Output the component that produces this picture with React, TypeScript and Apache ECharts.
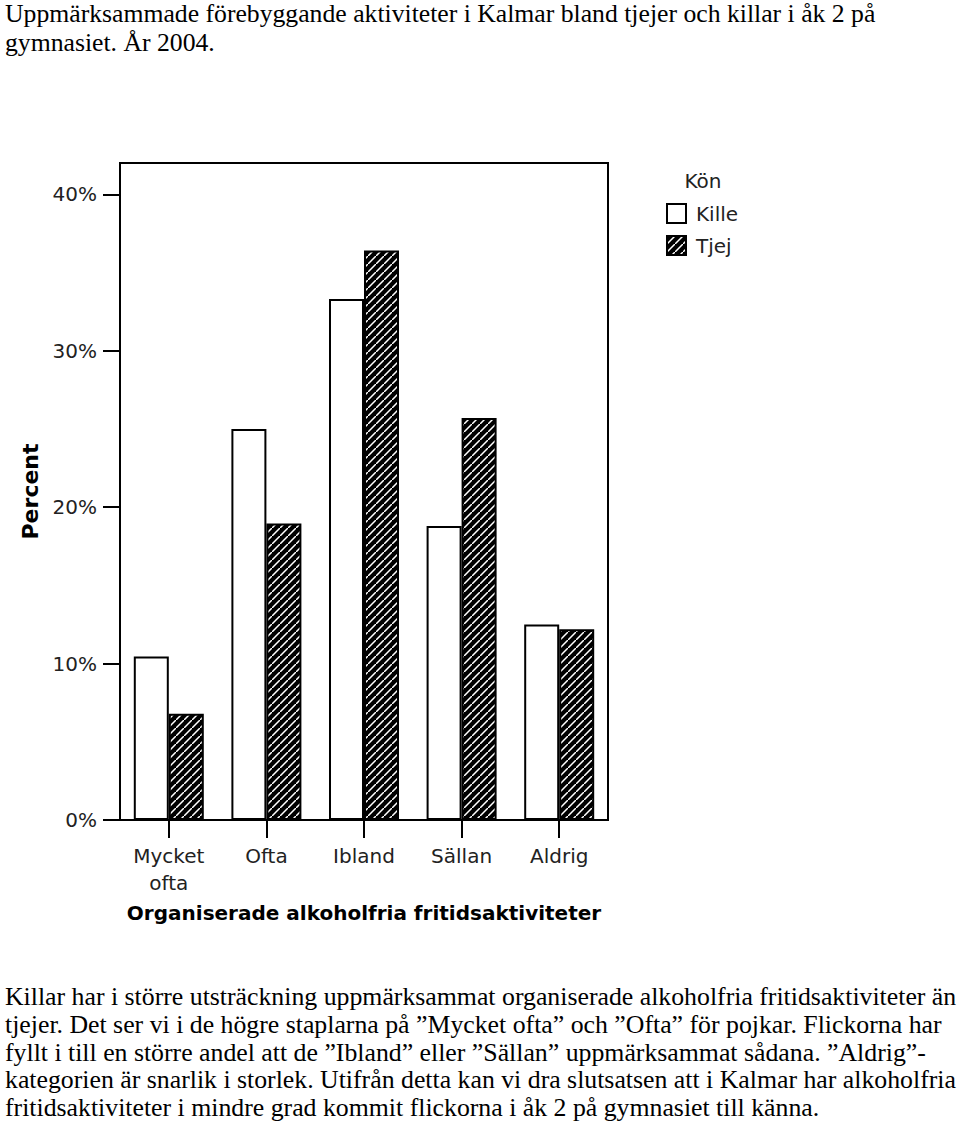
import React, { useEffect, useRef } from 'react';
import * as echarts from 'echarts';

const categories = ['Mycket\nofta', 'Ofta', 'Ibland', 'Sällan', 'Aldrig'];
const killeValues = [10.45, 25.0, 33.3, 18.8, 12.5];
const tjejValues = [6.8, 18.95, 36.4, 25.7, 12.2];
const yTicks = [0, 10, 20, 30, 40];
const seriesNames = ['Kille', 'Tjej'];
const legendTitle = 'Kön';
const xAxisName = 'Organiserade alkoholfria fritidsaktiviteter';
const yAxisName = 'Percent';
const titleLines = [
  'Uppmärksammade förebyggande aktiviteter i Kalmar bland tjejer och killar i åk 2 på',
  'gymnasiet. År 2004.',
];
const bodyLines = [
  'Killar har i större utsträckning uppmärksammat organiserade alkoholfria fritidsaktiviteter än',
  'tjejer. Det ser vi i de högre staplarna på ”Mycket ofta” och ”Ofta” för pojkar. Flickorna har',
  'fyllt i till en större andel att de ”Ibland” eller ”Sällan” uppmärksammat sådana. ”Aldrig”-',
  'kategorien är snarlik i storlek. Utifrån detta kan vi dra slutsatsen att i Kalmar har alkoholfria',
  'fritidsaktiviteter i mindre grad kommit flickorna i åk 2 på gymnasiet till känna.',
];

function makeHatch(): HTMLCanvasElement {
  const n = 8;
  const c = document.createElement('canvas');
  c.width = n;
  c.height = n;
  const ctx = c.getContext('2d')!;
  ctx.fillStyle = '#000';
  ctx.fillRect(0, 0, n, n);
  ctx.strokeStyle = '#fff';
  ctx.lineWidth = 1.5;
  ctx.beginPath();
  ctx.moveTo(-2, n + 2);
  ctx.lineTo(n + 2, -2);
  ctx.moveTo(-2 - n, n + 2 - n);
  ctx.lineTo(n + 2 - n, -2 - n);
  ctx.moveTo(-2 + n, n + 2 + n);
  ctx.lineTo(n + 2 + n, -2 + n);
  ctx.stroke();
  return c;
}

export default function App() {
  const ref = useRef<HTMLDivElement>(null);
  useEffect(() => {
    document.body.style.margin = '0';
    const chart = echarts.init(ref.current!, null, { renderer: 'svg' });
    const hatch = { image: makeHatch(), repeat: 'repeat', imageWidth: 8, imageHeight: 8 } as any;
    const sans = 'DejaVu Sans';
    const serif = 'Liberation Serif';
    const graphics: any[] = [];
    titleLines.forEach((t, i) => {
      graphics.push({
        type: 'text', x: 5, y: 1 + i * 29, scaleX: 1.028,
        style: { text: t, font: `25px "${serif}"`, fill: '#000', verticalAlign: 'top' },
      });
    });
    bodyLines.forEach((t, i) => {
      graphics.push({
        type: 'text', x: 5, y: 984 + i * 27.6, scaleX: 1.032,
        style: { text: t, font: `25px "${serif}"`, fill: '#000', verticalAlign: 'top' },
      });
    });
    graphics.push({
      type: 'text', x: 703, y: 181,
      style: { text: legendTitle, font: `20px "${sans}"`, fill: '#222', align: 'center', verticalAlign: 'middle' },
    });
    chart.setOption({
      animation: false,
      backgroundColor: '#fff',
      grid: {
        left: 120, right: 352, top: 163, bottom: 314,
        show: true, borderColor: '#000', borderWidth: 2, backgroundColor: 'transparent',
      },
      legend: {
        data: seriesNames,
        orient: 'vertical',
        left: 661,
        top: 198,
        icon: 'rect',
        itemWidth: 19,
        itemHeight: 19,
        itemGap: 11,
        textStyle: { fontFamily: sans, fontSize: 20, color: '#222', padding: [0, 0, 0, 5] },
      },
      xAxis: {
        type: 'category',
        data: categories,
        axisLine: { show: true, lineStyle: { color: '#000', width: 2 } },
        axisTick: { show: true, alignWithLabel: true, length: 18, lineStyle: { color: '#000', width: 2 } },
        axisLabel: { interval: 0, fontFamily: sans, fontSize: 20, lineHeight: 27, color: '#222', margin: 22 },
        name: xAxisName,
        nameLocation: 'middle',
        nameGap: 83,
        nameTextStyle: { fontFamily: sans, fontWeight: 'bold', fontSize: 20, color: '#000' },
      },
      yAxis: {
        type: 'value',
        min: 0,
        max: 42,
        interval: 10,
        axisLine: { show: true, lineStyle: { color: '#000', width: 2 } },
        axisTick: { show: true, length: 17, lineStyle: { color: '#000', width: 2 }, customValues: yTicks },
        axisLabel: {
          formatter: '{value}%', customValues: yTicks, fontFamily: sans, fontSize: 20, color: '#222', margin: 23,
        },
        splitLine: { show: false },
        name: yAxisName,
        nameLocation: 'middle',
        nameGap: 73,
        nameTextStyle: { fontFamily: sans, fontWeight: 'bold', fontSize: 22, color: '#000' },
      },
      series: [
        {
          name: seriesNames[0], type: 'bar', data: killeValues, barWidth: 35, barGap: '0%',
          itemStyle: { color: '#fff', borderColor: '#000', borderWidth: 2 },
        },
        {
          name: seriesNames[1], type: 'bar', data: tjejValues, barWidth: 35, barGap: '0%',
          itemStyle: { color: hatch, borderColor: '#000', borderWidth: 2 },
        },
      ],
      graphic: graphics,
    });
    return () => chart.dispose();
  }, []);
  return <div ref={ref} style={{ width: 960, height: 1134 }} />;
}
